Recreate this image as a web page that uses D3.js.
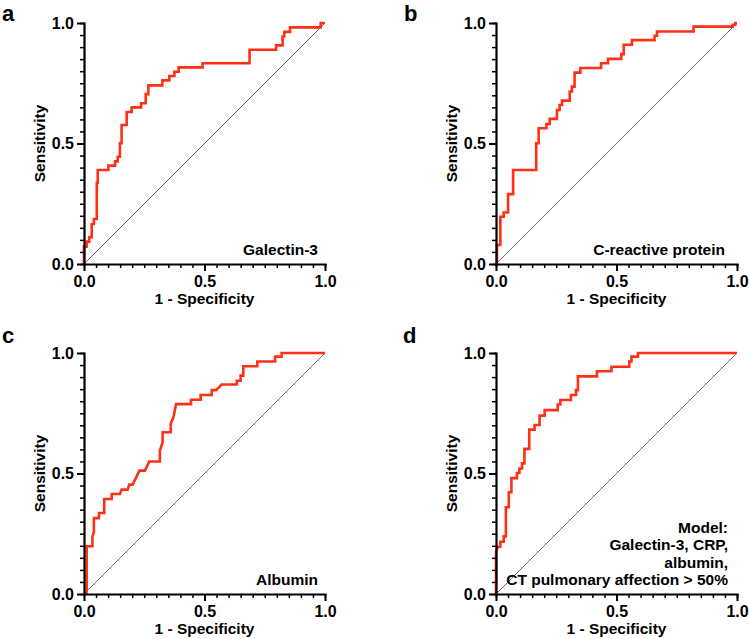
<!DOCTYPE html>
<html>
<head>
<meta charset="utf-8">
<script src="https://cdn.jsdelivr.net/npm/d3@7"></script>
<style>
  body { margin: 0; background: #fff; }
  text { font-family: "Liberation Sans", Arial, sans-serif; font-weight: bold; fill: #000; }
</style>
</head>
<body>
<svg id="roc-panels"></svg>
<script>
// ROC curves: (1 - specificity, sensitivity) vertices
const fprGalectin = [0,0,0.011,0.011,0.022,0.022,0.032,0.032,0.041,0.041,0.053,0.053,0.057,0.057,0.101,0.101,0.129,0.129,0.140,0.140,0.149,0.149,0.156,0.156,0.177,0.177,0.198,0.198,0.237,0.237,0.256,0.256,0.267,0.267,0.325,0.325,0.354,0.354,0.375,0.375,0.393,0.393,0.492,0.492,0.687,0.687,0.797,0.797,0.824,0.824,0.831,0.831,0.855,0.855,0.982,0.982,1];
const tprGalectin = [0,0.072,0.072,0.093,0.093,0.111,0.111,0.166,0.166,0.187,0.187,0.336,0.336,0.390,0.390,0.408,0.408,0.426,0.426,0.445,0.445,0.501,0.501,0.577,0.577,0.631,0.631,0.650,0.650,0.667,0.667,0.705,0.705,0.741,0.741,0.762,0.762,0.780,0.780,0.798,0.798,0.816,0.816,0.833,0.833,0.889,0.889,0.907,0.907,0.944,0.944,0.963,0.963,0.982,0.982,1,1];

const fprCrp = [0,0.004,0.004,0.018,0.018,0.032,0.032,0.050,0.050,0.071,0.071,0.167,0.167,0.177,0.177,0.209,0.209,0.223,0.223,0.253,0.253,0.264,0.264,0.274,0.274,0.306,0.306,0.315,0.315,0.326,0.326,0.350,0.350,0.436,0.436,0.465,0.465,0.520,0.520,0.530,0.530,0.564,0.564,0.658,0.658,0.668,0.668,0.820,0.820,0.982,0.982,0.993,0.993,1];
const tprCrp = [0,0,0.079,0.079,0.196,0.196,0.214,0.214,0.290,0.290,0.390,0.390,0.501,0.501,0.563,0.563,0.581,0.581,0.602,0.602,0.639,0.639,0.660,0.660,0.678,0.678,0.716,0.716,0.736,0.736,0.794,0.794,0.813,0.813,0.833,0.833,0.851,0.851,0.871,0.871,0.910,0.910,0.929,0.929,0.947,0.947,0.965,0.965,0.985,0.985,0.993,0.993,1,1];

const fprAlbumin = [0,0.011,0.011,0.035,0.035,0.041,0.041,0.062,0.062,0.084,0.084,0.115,0.115,0.149,0.156,0.181,0.188,0.202,0.230,0.253,0.271,0.315,0.315,0.326,0.326,0.360,0.360,0.371,0.382,0.444,0.444,0.484,0.484,0.530,0.530,0.548,0.571,0.634,0.634,0.650,0.650,0.661,0.661,0.719,0.719,0.793,0.793,0.820,0.820,1];
const tprAlbumin = [0,0.006,0.198,0.198,0.239,0.256,0.315,0.315,0.336,0.336,0.394,0.394,0.415,0.415,0.433,0.433,0.454,0.454,0.512,0.512,0.550,0.550,0.595,0.629,0.671,0.671,0.708,0.733,0.788,0.788,0.806,0.806,0.826,0.826,0.846,0.846,0.869,0.869,0.885,0.885,0.906,0.906,0.945,0.945,0.965,0.965,0.985,0.985,1,1];

const fprModel = [0,0,0.008,0.018,0.018,0.032,0.032,0.041,0.041,0.053,0.053,0.064,0.064,0.087,0.087,0.097,0.097,0.108,0.108,0.118,0.118,0.138,0.138,0.160,0.160,0.181,0.181,0.202,0.202,0.256,0.256,0.267,0.267,0.311,0.311,0.332,0.332,0.340,0.340,0.419,0.419,0.479,0.479,0.553,0.553,0.562,0.562,0.589,0.589,1];
const tprModel = [0,0.177,0.196,0.196,0.217,0.217,0.239,0.239,0.360,0.360,0.422,0.422,0.481,0.481,0.502,0.502,0.521,0.521,0.542,0.542,0.602,0.602,0.682,0.682,0.701,0.701,0.740,0.740,0.763,0.763,0.786,0.786,0.805,0.805,0.826,0.826,0.846,0.846,0.903,0.903,0.924,0.924,0.943,0.943,0.965,0.965,0.985,0.985,1,1];

const panelLetters = ["a", "b", "c", "d"];
const panelLabels = [["Galectin-3"], ["C-reactive protein"], ["Albumin"],
    ["Model:", "Galectin-3, CRP,", "albumin,", "CT pulmonary affection > 50%"]];
const majorTicks = [0, 0.5, 1];
const tickLabels = ["0.0", "0.5", "1.0"];

const panels = [
    { fpr: fprGalectin, tpr: tprGalectin, left: 84, top: 23, letterX: 2, letterY: 21, labelRight: 234 },
    { fpr: fprCrp, tpr: tprCrp, left: 496, top: 23, letterX: 404, letterY: 21, labelRight: 229 },
    { fpr: fprAlbumin, tpr: tprAlbumin, left: 84, top: 353, letterX: 2, letterY: 343, labelRight: 234 },
    { fpr: fprModel, tpr: tprModel, left: 496, top: 353, letterX: 403, letterY: 343, labelRight: 232 }
];

const width = 749, height = 639, size = 241;
const lineColor = "#ff3016";

const svg = d3.select("#roc-panels").attr("width", width).attr("height", height);
svg.append("rect").attr("width", width).attr("height", height).attr("fill", "#fff");

const x = d3.scaleLinear().domain([0, 1]).range([0, size]);
const y = d3.scaleLinear().domain([0, 1]).range([size, 0]);
const minorTicks = d3.range(0, 21).map(i => i / 20);

panels.forEach((p, i) => {
    const g = svg.append("g").attr("transform", `translate(${p.left},${p.top})`);

    // reference diagonal
    g.append("line")
        .attr("x1", x(0)).attr("y1", y(0))
        .attr("x2", x(1)).attr("y2", y(1))
        .attr("stroke", "#444").attr("stroke-width", 0.8);

    // ROC curve
    const pts = p.fpr.map((f, k) => [f, p.tpr[k]]);
    g.append("path")
        .datum(pts)
        .attr("fill", "none")
        .attr("stroke", lineColor)
        .attr("stroke-width", 2.6)
        .attr("stroke-linejoin", "miter")
        .attr("d", d3.line().x(d => x(d[0])).y(d => y(d[1])));

    // minor ticks
    g.append("g").attr("transform", `translate(0,${size})`)
        .call(d3.axisBottom(x).tickValues(minorTicks).tickSize(4).tickFormat(""))
        .call(a => a.select(".domain").remove())
        .call(a => a.selectAll("line").attr("stroke-width", 1.5));
    g.append("g")
        .call(d3.axisLeft(y).tickValues(minorTicks).tickSize(4).tickFormat(""))
        .call(a => a.select(".domain").remove())
        .call(a => a.selectAll("line").attr("stroke-width", 1.5));

    // major ticks + labels
    g.append("g").attr("transform", `translate(0,${size})`)
        .call(d3.axisBottom(x).tickValues(majorTicks).tickSize(7).tickSizeOuter(0).tickPadding(5)
            .tickFormat((d, k) => tickLabels[k]))
        .call(a => a.select(".domain").attr("stroke-width", 2.2).attr("stroke-linecap", "square"))
        .call(a => a.selectAll("line").attr("stroke-width", 2))
        .call(a => a.selectAll("text").attr("font-size", 16).attr("font-family", null));
    g.append("g")
        .call(d3.axisLeft(y).tickValues(majorTicks).tickSize(7).tickSizeOuter(0).tickPadding(3)
            .tickFormat((d, k) => tickLabels[k]))
        .call(a => a.select(".domain").attr("stroke-width", 2.2).attr("stroke-linecap", "square"))
        .call(a => a.selectAll("line").attr("stroke-width", 2))
        .call(a => a.selectAll("text").attr("font-size", 16).attr("font-family", null));

    // axis titles
    g.append("text")
        .attr("x", size / 2).attr("y", size + 40)
        .attr("text-anchor", "middle").attr("font-size", 15.5)
        .text("1 - Specificity");
    g.append("text")
        .attr("transform", `translate(-39,${size / 2}) rotate(-90)`)
        .attr("text-anchor", "middle").attr("font-size", 15.5)
        .text("Sensitivity");

    // curve label (right aligned, bottom right)
    const lines = panelLabels[i];
    lines.forEach((t, k) => {
        g.append("text")
            .attr("x", p.labelRight)
            .attr("y", size - 9 - (lines.length - 1 - k) * 17.3)
            .attr("text-anchor", "end").attr("font-size", 15.5)
            .text(t);
    });

    // panel letter
    svg.append("text")
        .attr("x", p.letterX).attr("y", p.letterY)
        .attr("font-size", 22)
        .text(panelLetters[i]);
});
</script>
</body>
</html>
